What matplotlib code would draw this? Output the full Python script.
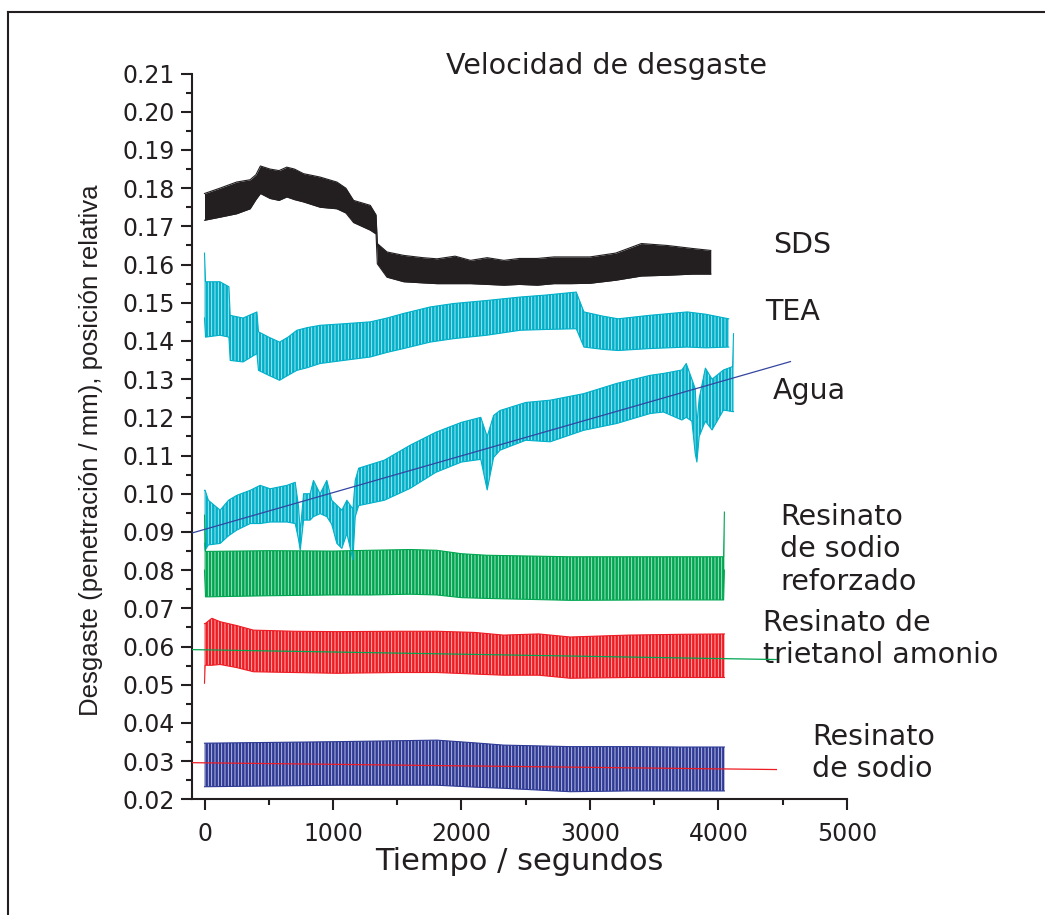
#!/usr/bin/env python3
"""Velocidad de desgaste - wear position vs time for several resinate samples."""

import numpy as np
import matplotlib
matplotlib.use('Agg')
import matplotlib.pyplot as plt
from matplotlib.lines import Line2D
from matplotlib.ticker import MultipleLocator

# Each trace oscillates quickly, so it is stored as an upper / lower envelope
# (seconds, mm) read off the recorder output.
sds_t = [0, 120, 250, 355, 400, 435, 510, 580, 640, 700, 770, 900, 1030, 1100, 1160,
         1290, 1335, 1345, 1420, 1550, 1700, 1810, 1950, 2070, 2200, 2330, 2450,
         2590, 2720, 2850, 3000, 3200, 3400, 3600, 3800, 3940]
sds_hi = [0.1786, 0.1800, 0.1816, 0.1822, 0.1835, 0.1858, 0.1850, 0.1846, 0.1855, 0.1850,
          0.1838, 0.1829, 0.1816, 0.1800, 0.1768, 0.1755, 0.1730, 0.1655, 0.1633, 0.1624,
          0.1618, 0.1615, 0.1622, 0.1611, 0.1618, 0.1611, 0.1616, 0.1616, 0.1620, 0.1620,
          0.1620, 0.1630, 0.1655, 0.1650, 0.1642, 0.1637]
sds_lo = [0.1716, 0.1724, 0.1733, 0.1746, 0.1770, 0.1786, 0.1773, 0.1768, 0.1777, 0.1770,
          0.1764, 0.1750, 0.1746, 0.1735, 0.1710, 0.1690, 0.1680, 0.1602, 0.1567, 0.1555,
          0.1552, 0.1550, 0.1550, 0.1550, 0.1548, 0.1546, 0.1548, 0.1546, 0.1550, 0.1550,
          0.1551, 0.1559, 0.1570, 0.1572, 0.1575, 0.1575]

tea_t = [0, 8, 120, 190, 200, 300, 408, 420, 500, 584, 650, 719, 800, 900, 1082, 1290,
         1420, 1549, 1756, 1938, 2197, 2457, 2650, 2893, 2953, 3100, 3219, 3461, 3757,
         3900, 4080]
tea_hi = [0.1630, 0.1555, 0.1555, 0.1542, 0.1467, 0.1460, 0.1476, 0.1424, 0.1410, 0.1397,
          0.1410, 0.1428, 0.1435, 0.1441, 0.1445, 0.1450, 0.1460, 0.1472, 0.1489, 0.1498,
          0.1506, 0.1515, 0.1520, 0.1528, 0.1476, 0.1465, 0.1458, 0.1467, 0.1476, 0.1470,
          0.1458]
tea_lo = [0.1460, 0.1410, 0.1415, 0.1410, 0.1349, 0.1345, 0.1367, 0.1323, 0.1310, 0.1297,
          0.1310, 0.1323, 0.1330, 0.1341, 0.1349, 0.1358, 0.1370, 0.1380, 0.1397, 0.1406,
          0.1415, 0.1428, 0.1430, 0.1432, 0.1384, 0.1378, 0.1375, 0.1380, 0.1384, 0.1382,
          0.1384]

agua_t = [0, 5, 30, 122, 187, 252, 356, 433, 511, 641, 706, 732, 745, 771, 822, 848,
          900, 952, 990, 1030, 1069, 1108, 1155, 1173, 1200, 1400, 1600, 1800, 2000,
          2150, 2200, 2250, 2300, 2500, 2690, 2950, 3209, 3468, 3572, 3715, 3749, 3793,
          3819, 3832, 3850, 3898, 3950, 4039, 4110, 4117]
agua_hi = [0.1009, 0.1009, 0.0983, 0.0957, 0.0983, 0.0996, 0.1009, 0.1022, 0.1013, 0.1022,
           0.1030, 0.0966, 0.0900, 0.1000, 0.1000, 0.1035, 0.1000, 0.1035, 0.0983, 0.0970,
           0.0957, 0.0983, 0.0960, 0.1035, 0.1067, 0.1088, 0.1127, 0.1161, 0.1187, 0.1200,
           0.1150, 0.1205, 0.1218, 0.1239, 0.1245, 0.1262, 0.1289, 0.1310, 0.1315, 0.1324,
           0.1341, 0.1300, 0.1275, 0.1180, 0.1250, 0.1329, 0.1300, 0.1324, 0.1333, 0.1419]
agua_lo = [0.0870, 0.0852, 0.0866, 0.0870, 0.0890, 0.0905, 0.0922, 0.0922, 0.0926, 0.0926,
           0.0922, 0.0880, 0.0852, 0.0931, 0.0931, 0.0940, 0.0948, 0.0940, 0.0920, 0.0870,
           0.0857, 0.0896, 0.0827, 0.0940, 0.0969, 0.0983, 0.1014, 0.1056, 0.1083, 0.1090,
           0.1010, 0.1095, 0.1114, 0.1140, 0.1136, 0.1166, 0.1184, 0.1210, 0.1214, 0.1193,
           0.1200, 0.1190, 0.1105, 0.1083, 0.1150, 0.1190, 0.1167, 0.1219, 0.1215, 0.1215]

reforzado_t = [0, 8, 500, 1000, 1290, 1600, 1808, 2000, 2197, 2846, 3500, 4040, 4046]
reforzado_hi = [0.0944, 0.0849, 0.0851, 0.0850, 0.0852, 0.0854, 0.0852, 0.0843, 0.0839,
                0.0835, 0.0835, 0.0835, 0.0952]
reforzado_lo = [0.0800, 0.0730, 0.0733, 0.0735, 0.0735, 0.0737, 0.0735, 0.0728, 0.0726,
                0.0721, 0.0722, 0.0722, 0.0800]

trietanol_t = [0, 5, 57, 122, 250, 381, 700, 1030, 1500, 1808, 2100, 2327, 2600, 2846,
               3300, 3700, 4046]
trietanol_hi = [0.0660, 0.0660, 0.0674, 0.0665, 0.0655, 0.0643, 0.0640, 0.0639, 0.0640,
                0.0640, 0.0637, 0.0630, 0.0633, 0.0625, 0.0630, 0.0632, 0.0633]
trietanol_lo = [0.0504, 0.0551, 0.0551, 0.0553, 0.0545, 0.0534, 0.0532, 0.0530, 0.0532,
                0.0532, 0.0528, 0.0525, 0.0525, 0.0517, 0.0519, 0.0519, 0.0519]

sodio_t = [0, 1030, 1808, 2100, 2327, 2846, 3300, 3700, 4046]
sodio_hi = [0.0347, 0.0351, 0.0355, 0.0348, 0.0342, 0.0338, 0.0338, 0.0337, 0.0337]
sodio_lo = [0.0233, 0.0237, 0.0237, 0.0232, 0.0229, 0.0220, 0.0222, 0.0222, 0.0222]

# Linear fits (end points)
agua_fit_t = [-100, 4560]
agua_fit_v = [0.0897, 0.1346]
trietanol_fit_t = [-100, 4451]
trietanol_fit_v = [0.0592, 0.0566]
sodio_fit_t = [-100, 4451]
sodio_fit_v = [0.0296, 0.0278]

TEXT = '#231f20'
CYAN = '#00b0c9'

series = [
    (sds_t, sds_hi, sds_lo, '#231f20', None),
    (tea_t, tea_hi, tea_lo, CYAN, '|||||'),
    (agua_t, agua_hi, agua_lo, CYAN, '|||||'),
    (reforzado_t, reforzado_hi, reforzado_lo, '#00a651', '|||||'),
    (trietanol_t, trietanol_hi, trietanol_lo, '#ed1c24', '|||||'),
    (sodio_t, sodio_hi, sodio_lo, '#2e3a96', '|||||'),
]

# label text, left edge (s) and baseline of the last line (mm)
labels = [
    ("SDS", 4426, 0.1629),
    ("TEA", 4362, 0.1454),
    ("Agua", 4426, 0.1247),
    ("Resinato\nde sodio\nreforzado", 4480, 0.0749),
    ("Resinato de\ntrietanol amonio", 4346, 0.0557),
    ("Resinato\nde sodio", 4728, 0.0258),
]

plt.rcParams['font.family'] = ['DejaVu Sans']
plt.rcParams['hatch.linewidth'] = 0.6

fig = plt.figure(figsize=(10.45, 9.15), dpi=100)
ax = fig.add_axes([0.1834, 0.1264, 0.6271, 0.7932])

for t, hi, lo, color, hatch in series:
    t = np.asarray(t)
    ax.fill_between(t, lo, hi, facecolor=color,
                    edgecolor=(1, 1, 1, 0.75) if hatch else color,
                    hatch=hatch, linewidth=0, zorder=2)
    ax.plot(t, hi, color=color, lw=0.8, zorder=3)
    ax.plot(t, lo, color=color, lw=0.8, zorder=3)

ax.plot(agua_fit_t, agua_fit_v, color='#3446a0', lw=0.9, zorder=4)
ax.plot(trietanol_fit_t, trietanol_fit_v, color='#00a651', lw=0.9, zorder=4)
ax.plot(sodio_fit_t, sodio_fit_v, color='#ed1c24', lw=0.9, zorder=4)

ax.set_xlim(-100, 5000)
ax.set_ylim(0.02, 0.21)
ax.xaxis.set_major_locator(MultipleLocator(1000))
ax.xaxis.set_minor_locator(MultipleLocator(500))
ax.yaxis.set_major_locator(MultipleLocator(0.01))
ax.yaxis.set_minor_locator(MultipleLocator(0.005))
ax.yaxis.set_major_formatter(plt.FormatStrFormatter('%.2f'))

for side in ('top', 'right'):
    ax.spines[side].set_visible(False)
for side in ('left', 'bottom'):
    ax.spines[side].set_linewidth(1.5)
    ax.spines[side].set_color(TEXT)

ax.tick_params(which='both', direction='out', width=1.5, color=TEXT,
               labelcolor=TEXT, labelsize=17)
ax.tick_params(which='major', length=8)
ax.tick_params(which='minor', length=4.5)
ax.tick_params(axis='y', pad=4)
ax.tick_params(axis='x', pad=8)

ax.set_xlabel('Tiempo / segundos', fontsize=22, color=TEXT)
ax.xaxis.set_label_coords(0.5, -0.066)
ax.set_ylabel('Desgaste (penetración / mm), posición relativa', fontsize=18.5,
              color=TEXT, family=['Liberation Sans', 'DejaVu Sans'])
ax.yaxis.set_label_coords(-0.135, 0.481)

fig.text(607 / 1045, 1 - 66 / 915, 'Velocidad de desgaste', fontsize=20.5,
         color=TEXT, ha='center', va='center')

for text, x, y in labels:
    ax.text(x, y, text, fontsize=20.5, color=TEXT, ha='left', va='baseline',
            linespacing=1.2, clip_on=False)

# page frame (left and top edges)
fig.add_artist(Line2D([7.5 / 1045, 7.5 / 1045], [0, 1 - 12 / 915],
                      color=TEXT, lw=1.5, transform=fig.transFigure))
fig.add_artist(Line2D([7.5 / 1045, 1], [1 - 12 / 915, 1 - 12 / 915],
                      color=TEXT, lw=1.5, transform=fig.transFigure))

fig.savefig('out.png', dpi=100)
